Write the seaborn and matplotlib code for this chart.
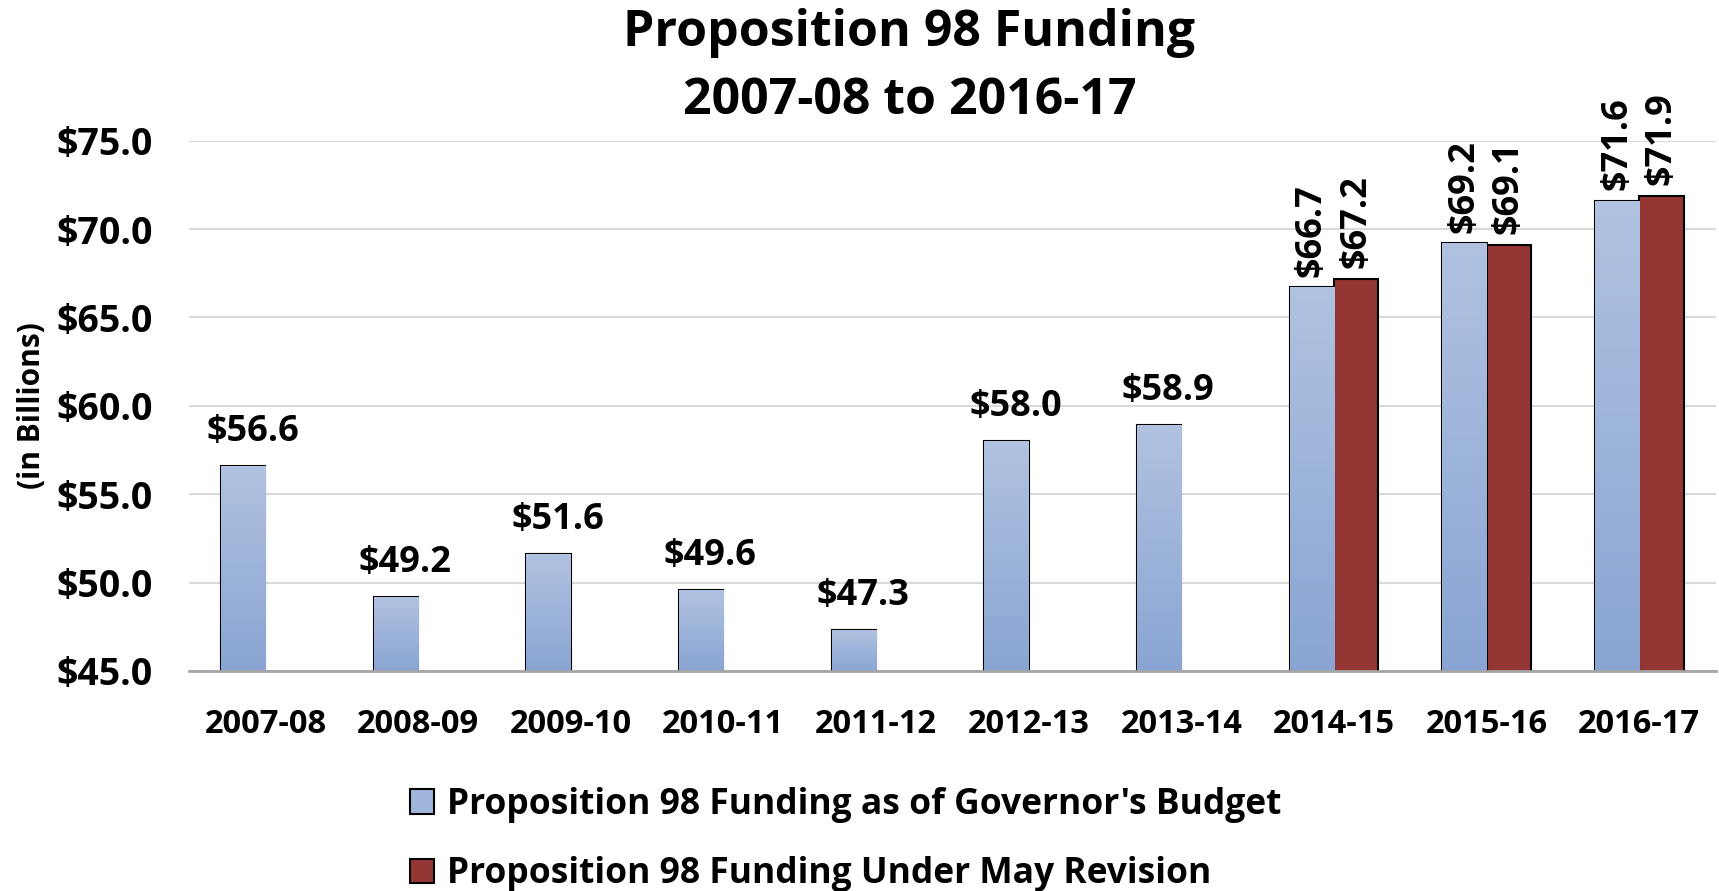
import numpy as np
import pandas as pd
import seaborn as sns
from matplotlib import pyplot as plt
from matplotlib.patches import Patch

years = ['2007-08', '2008-09', '2009-10', '2010-11', '2011-12',
         '2012-13', '2013-14', '2014-15', '2015-16', '2016-17']
governor = [56.6, 49.2, 51.6, 49.6, 47.3, 58.0, 58.9, 66.7, 69.2, 71.6]
may_revision = [np.nan] * 7 + [67.2, 69.1, 71.9]
series = ["Proposition 98 Funding as of Governor's Budget",
          'Proposition 98 Funding Under May Revision']
yticks = [45, 50, 55, 60, 65, 70, 75]

df = pd.concat([
    pd.DataFrame({'year': years, 'value': governor, 'series': series[0]}),
    pd.DataFrame({'year': years, 'value': may_revision, 'series': series[1]}),
]).dropna()

sns.set_theme(style='white')
plt.rcParams['font.family'] = ['Open Sans', 'DejaVu Sans']
plt.rcParams['font.weight'] = 'bold'
plt.rcParams['text.color'] = 'black'

blue, red = '#9fb5da', '#943634'

fig = plt.figure(figsize=(17.19, 8.91), dpi=100)
ax = fig.add_axes([0.110, 0.247, 0.888, 0.595])
sns.barplot(data=df, x='year', y='value', hue='series', order=years,
            hue_order=series, palette=[blue, red], width=0.58, saturation=1,
            edgecolor='black', linewidth=1.5, legend=False, ax=ax)

ax.set_ylim(45, 75)
ax.set_yticks(yticks)
ax.set_yticklabels(['${:.1f}'.format(v) for v in yticks], fontsize=27, fontweight='bold', color='black')
ax.tick_params(axis='y', length=0, pad=26)
ax.tick_params(axis='x', length=0, pad=27, labelsize=23.5, labelcolor='black')
for lbl in ax.get_xticklabels():
    lbl.set_fontweight('bold')
ax.yaxis.grid(True, color='#d9d9d9', lw=1.5)
ax.set_axisbelow(True)
for s in ['top', 'right', 'left']:
    ax.spines[s].set_visible(False)
ax.spines['bottom'].set_color('#a6a6a6')
ax.spines['bottom'].set_linewidth(2)
ax.set_xlabel('')
ax.set_ylabel('(in Billions)', fontsize=21.5, fontweight='bold', color='black')
ax.yaxis.set_label_coords(-0.093, 0.5)

# gradient fill for governor bars, then value labels
grad = np.linspace(0, 1, 256).reshape(-1, 1)
cmap = sns.blend_palette(['#8aa5d3', '#b0c2e0'], as_cmap=True)
for ci, cont in enumerate(ax.containers):
    for bar in cont:
        h = bar.get_height()
        if np.isnan(h):
            continue
        x0, w = bar.get_x(), bar.get_width()
        xc = x0 + w / 2
        if ci == 0:
            im = ax.imshow(grad, extent=(x0, x0 + w, 45, h), origin='lower', cmap=cmap,
                           aspect='auto', zorder=bar.get_zorder())
            im.set_clip_path(bar)
        grp = int(round(xc + (0.145 if ci == 0 else -0.145)))
        if not np.isnan(may_revision[grp]):
            ax.text(xc, h + 0.6, '${:.1f}'.format(h), rotation=90, ha='center', va='bottom',
                    fontsize=26, fontweight='bold')
        else:
            ax.text(xc + 0.06, h + 0.9, '${:.1f}'.format(h), ha='center', va='bottom',
                    fontsize=26, fontweight='bold')
ax.set_xlim(-0.5, len(years) - 0.5)
ax.set_ylim(45, 75)

fig.text(0.529, 0.963, 'Proposition 98 Funding', ha='center', va='center',
         fontsize=36, fontweight='bold')
fig.text(0.529, 0.887, '2007-08 to 2016-17', ha='center', va='center',
         fontsize=36, fontweight='bold')

handles = [Patch(facecolor=blue, edgecolor='black', lw=1.5),
           Patch(facecolor=red, edgecolor='black', lw=1.5)]
fig.legend(handles, series, loc='upper left', bbox_to_anchor=(0.230, 0.133),
           frameon=False, handlelength=0.7, handleheight=0.7,
           handletextpad=0.35, labelspacing=0.95, borderaxespad=0,
           prop={'family': ['Open Sans', 'DejaVu Sans'], 'weight': 'bold', 'size': 25.5})

fig.savefig('out.png', dpi=100)
